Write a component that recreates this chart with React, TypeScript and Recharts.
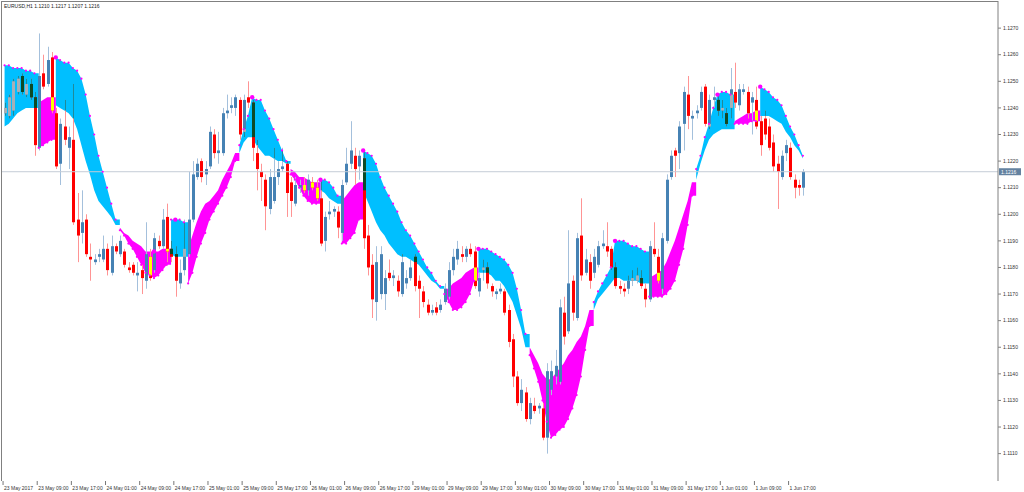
import React from 'react';
import { ComposedChart, Area, Bar, Line, XAxis, YAxis, ReferenceLine } from 'recharts';

// EURUSD H1 candles, 23 May 01:00 .. 1 Jun 21:00
const openPrices = [
  1.1238, 1.1237, 1.1239, 1.1246, 1.1252, 1.1245, 1.1249, 1.1244, 1.1225, 1.1253,
  1.1249, 1.1259, 1.1238, 1.1219, 1.1233, 1.1225, 1.1228, 1.1198, 1.1193, 1.1198,
  1.1184, 1.1182, 1.1184, 1.1183, 1.1187, 1.1178, 1.1188, 1.1185, 1.1186, 1.118,
  1.1181, 1.1177, 1.1179, 1.1175, 1.1184, 1.1179, 1.119, 1.1188, 1.1199, 1.1187,
  1.1185, 1.1174, 1.1179, 1.1185, 1.1198, 1.1214, 1.122, 1.1215, 1.1218, 1.123,
  1.1223, 1.1223, 1.1238, 1.124, 1.124, 1.1243, 1.1231, 1.1244, 1.1242, 1.1223,
  1.1216, 1.1213, 1.1202, 1.1205, 1.1214, 1.1217, 1.1219, 1.1212, 1.1204, 1.121,
  1.1211, 1.1209, 1.1212, 1.121, 1.1206, 1.119, 1.12, 1.1201, 1.1201, 1.1193,
  1.1212, 1.1219, 1.1222, 1.1218, 1.1221, 1.1192, 1.1181, 1.1167, 1.117, 1.117,
  1.1178, 1.1176, 1.1175, 1.117, 1.1174, 1.1176, 1.1184, 1.1175, 1.1171, 1.1166,
  1.1163, 1.1165, 1.1164, 1.1167, 1.1169, 1.1179, 1.1183, 1.1185, 1.1184, 1.1187,
  1.1186, 1.1171, 1.1179, 1.118, 1.1173, 1.117, 1.1171, 1.1171, 1.1164, 1.1153,
  1.1139, 1.1129, 1.1133, 1.1123, 1.1128, 1.1127, 1.1127, 1.1116, 1.1134, 1.1139,
  1.1137, 1.1163, 1.1156, 1.1175, 1.1161, 1.1192, 1.1178, 1.1182, 1.1178, 1.1181,
  1.1188, 1.1188, 1.1187, 1.118, 1.1173, 1.1172, 1.1172, 1.1175, 1.1175, 1.1176,
  1.1172, 1.1168, 1.1187, 1.1184, 1.1172, 1.119, 1.1214, 1.1224, 1.1223, 1.1234,
  1.1245, 1.1236, 1.1238, 1.124, 1.1248, 1.1233, 1.1243, 1.1243, 1.1239, 1.1238,
  1.124, 1.1246, 1.1241, 1.1246, 1.1246, 1.1242, 1.1243, 1.1235, 1.1236, 1.1233,
  1.1227, 1.1219, 1.1214, 1.1223, 1.1225, 1.1213, 1.1211, 1.121,
];
const highPrices = [
  1.1242, 1.1245, 1.1251, 1.1252, 1.1253, 1.1251, 1.1251, 1.1246, 1.1268, 1.126,
  1.1263, 1.1261, 1.124, 1.1236, 1.1243, 1.1233, 1.1249, 1.1208, 1.1209, 1.12,
  1.1189, 1.1185, 1.1187, 1.1192, 1.1189, 1.1192, 1.1189, 1.1192, 1.1187, 1.1182,
  1.1182, 1.1182, 1.1181, 1.1197, 1.1187, 1.1193, 1.1192, 1.1202, 1.1204, 1.119,
  1.1188, 1.1183, 1.1198, 1.1216, 1.122, 1.1221, 1.1221, 1.122, 1.1233, 1.1232,
  1.1231, 1.124, 1.1245, 1.1244, 1.1245, 1.1244, 1.1245, 1.125, 1.1243, 1.1228,
  1.1219, 1.1215, 1.1217, 1.1225, 1.122, 1.1225, 1.122, 1.1214, 1.1214, 1.1213,
  1.1214, 1.1215, 1.1214, 1.1213, 1.1213, 1.1201, 1.1205, 1.1203, 1.1203, 1.1213,
  1.1225, 1.1235, 1.1225, 1.1224, 1.1224, 1.1196, 1.1185, 1.1188, 1.1188, 1.1179,
  1.1183, 1.1179, 1.1177, 1.1185, 1.1179, 1.1183, 1.1185, 1.1177, 1.1173, 1.1168,
  1.1166, 1.1167, 1.1168, 1.1174, 1.1182, 1.1187, 1.119, 1.1188, 1.1188, 1.1189,
  1.1188, 1.1178, 1.1183, 1.1182, 1.1174, 1.1172, 1.1174, 1.1172, 1.1166, 1.1155,
  1.1141, 1.1138, 1.1135, 1.1131, 1.1131, 1.1129, 1.1129, 1.1144, 1.1145, 1.1149,
  1.1168, 1.1169, 1.1194, 1.1177, 1.1193, 1.1206, 1.1187, 1.1185, 1.1187, 1.119,
  1.1194, 1.1197, 1.1188, 1.1182, 1.1175, 1.1174, 1.1177, 1.1179, 1.118, 1.1179,
  1.1174, 1.119, 1.1197, 1.1187, 1.1193, 1.1215, 1.1224, 1.1225, 1.1235, 1.1248,
  1.1252, 1.1239, 1.1241, 1.1248, 1.1249, 1.1245, 1.1248, 1.1245, 1.1243, 1.124,
  1.1255, 1.1257, 1.1249, 1.1249, 1.1248, 1.1246, 1.1248, 1.1237, 1.1239, 1.1236,
  1.123, 1.1222, 1.1224, 1.1228, 1.1227, 1.1215, 1.1213, 1.1217,
];
const lowPrices = [
  1.1237, 1.1236, 1.1237, 1.1245, 1.1245, 1.1244, 1.1243, 1.1222, 1.1224, 1.1247,
  1.1248, 1.1238, 1.1217, 1.1211, 1.1226, 1.1217, 1.1196, 1.1182, 1.1189, 1.1184,
  1.1175, 1.1181, 1.1182, 1.1182, 1.1177, 1.1177, 1.1185, 1.1184, 1.118, 1.1178,
  1.1177, 1.1171, 1.117, 1.1172, 1.1175, 1.1178, 1.1187, 1.1187, 1.1182, 1.1182,
  1.1169, 1.1172, 1.1177, 1.1184, 1.1197, 1.1213, 1.1212, 1.1211, 1.1217, 1.1221,
  1.1219, 1.1222, 1.1236, 1.1238, 1.1237, 1.1228, 1.1229, 1.124, 1.122, 1.1209,
  1.1205, 1.1194, 1.12, 1.1204, 1.1211, 1.1216, 1.1199, 1.1199, 1.1203, 1.1208,
  1.1208, 1.1207, 1.1209, 1.1205, 1.1188, 1.1186, 1.1198, 1.1199, 1.1191, 1.119,
  1.1211, 1.1217, 1.1211, 1.1213, 1.1187, 1.1177, 1.1161, 1.116, 1.1168, 1.1164,
  1.1175, 1.1173, 1.1169, 1.1169, 1.1172, 1.1175, 1.1171, 1.1161, 1.1165, 1.1162,
  1.1162, 1.1162, 1.1163, 1.1166, 1.1168, 1.1177, 1.1181, 1.1182, 1.1182, 1.1184,
  1.1172, 1.1169, 1.1175, 1.1172, 1.1169, 1.1168, 1.117, 1.1162, 1.115, 1.1135,
  1.1128, 1.1126, 1.1122, 1.1121, 1.1125, 1.1125, 1.1115, 1.111, 1.1132, 1.1136,
  1.1136, 1.1151, 1.1155, 1.116, 1.116, 1.1175, 1.1177, 1.1172, 1.1176, 1.118,
  1.1187, 1.1184, 1.1179, 1.1172, 1.117, 1.1169, 1.117, 1.1173, 1.1174, 1.1172,
  1.1165, 1.1167, 1.1184, 1.1174, 1.117, 1.1189, 1.1213, 1.1214, 1.1217, 1.1224,
  1.1232, 1.1228, 1.1236, 1.1239, 1.1233, 1.1232, 1.124, 1.1237, 1.1236, 1.1233,
  1.1236, 1.124, 1.1239, 1.1245, 1.1236, 1.123, 1.1232, 1.1222, 1.1228, 1.1224,
  1.1216, 1.1202, 1.1213, 1.122, 1.1213, 1.1206, 1.1207, 1.1207,
];
const closePrices = [
  1.124, 1.1244, 1.125, 1.1251, 1.1246, 1.1249, 1.1244, 1.1226, 1.1252, 1.1248,
  1.1258, 1.1239, 1.1218, 1.1234, 1.1228, 1.1229, 1.1197, 1.1192, 1.1197, 1.1185,
  1.1183, 1.1183, 1.1185, 1.1187, 1.1179, 1.1188, 1.1186, 1.119, 1.1181, 1.1179,
  1.1178, 1.1178, 1.1176, 1.1185, 1.1176, 1.1191, 1.1188, 1.1198, 1.1186, 1.1184,
  1.1175, 1.1178, 1.1187, 1.1198, 1.1215, 1.1219, 1.1214, 1.1217, 1.1231, 1.1223,
  1.1224, 1.1238, 1.1239, 1.1241, 1.1244, 1.123, 1.1243, 1.1242, 1.1225, 1.1217,
  1.1214, 1.1203, 1.1214, 1.1214, 1.1217, 1.1218, 1.1208, 1.1205, 1.1211, 1.1211,
  1.1209, 1.1213, 1.121, 1.1206, 1.1189, 1.1199, 1.1201, 1.1202, 1.1195, 1.1211,
  1.1219, 1.1224, 1.1217, 1.1222, 1.1191, 1.118, 1.1168, 1.1182, 1.1185, 1.1176,
  1.1176, 1.1177, 1.1171, 1.1182, 1.1176, 1.118, 1.1173, 1.1172, 1.1167, 1.1163,
  1.1164, 1.1163, 1.1166, 1.1172, 1.1179, 1.1184, 1.1187, 1.1184, 1.1187, 1.1185,
  1.1173, 1.1176, 1.118, 1.1174, 1.1171, 1.1171, 1.1172, 1.1163, 1.1152, 1.1139,
  1.1129, 1.1134, 1.1123, 1.1129, 1.1126, 1.1128, 1.1116, 1.1141, 1.1141, 1.1143,
  1.1165, 1.1154, 1.1174, 1.1163, 1.1191, 1.1177, 1.1183, 1.1175, 1.1184, 1.1188,
  1.1189, 1.1186, 1.118, 1.1173, 1.1172, 1.1171, 1.1175, 1.1176, 1.1177, 1.1173,
  1.1168, 1.1188, 1.1185, 1.1175, 1.1191, 1.1213, 1.1222, 1.1222, 1.1233, 1.1246,
  1.1237, 1.1237, 1.1239, 1.1246, 1.1234, 1.1243, 1.1244, 1.1239, 1.124, 1.1234,
  1.1247, 1.1242, 1.1247, 1.1247, 1.1238, 1.1244, 1.1233, 1.1226, 1.123, 1.1225,
  1.1218, 1.1216, 1.1222, 1.1226, 1.1214, 1.121, 1.121, 1.1216,
];

// indicator band: cyan where line A is above line B, magenta otherwise
const bandA = [
  1.1256, 1.1256, 1.1255, 1.1255, 1.1255, 1.1254, 1.1254, 1.1253, 1.1225, 1.1226,
  1.1227, 1.1228, 1.1259, 1.1258, 1.1257, 1.1257, 1.1255, 1.1254, 1.1251, 1.1245,
  1.1237, 1.123, 1.1222, 1.1216, 1.121, 1.1204, 1.1198, 1.1194, 1.1192, 1.1189,
  1.1187, 1.1184, 1.1181, 1.1178, 1.1177, 1.1176, 1.1177, 1.1179, 1.1181, 1.1198,
  1.1198, 1.1198, 1.1197, 1.1174, 1.1178, 1.1184, 1.1189, 1.1193, 1.1198, 1.1201,
  1.1204, 1.1207, 1.121, 1.1214, 1.122, 1.1226, 1.1232, 1.1237, 1.1244, 1.1243,
  1.1243, 1.1239, 1.1236, 1.1232, 1.1228, 1.1224, 1.122, 1.1215, 1.1213, 1.121,
  1.1207, 1.1205, 1.1204, 1.1204, 1.1213, 1.1213, 1.1212, 1.121, 1.1207, 1.1189,
  1.1189, 1.1191, 1.1193, 1.1198, 1.1224, 1.1223, 1.1222, 1.1219, 1.1214, 1.121,
  1.1207, 1.1204, 1.1201, 1.1197, 1.1194, 1.1192, 1.1189, 1.1186, 1.1183, 1.118,
  1.1178, 1.1175, 1.1173, 1.117, 1.1167, 1.1164, 1.1164, 1.1165, 1.1167, 1.117,
  1.1175, 1.1187, 1.1187, 1.1187, 1.1186, 1.1185, 1.1184, 1.1183, 1.1181, 1.1178,
  1.1172, 1.1164, 1.1155, 1.1147, 1.1142, 1.1137, 1.113, 1.1122, 1.1116, 1.1117,
  1.1119, 1.112, 1.1123, 1.1127, 1.1132, 1.1139, 1.1149, 1.1158, 1.1167, 1.1171,
  1.1174, 1.1177, 1.118, 1.119, 1.119, 1.119, 1.1189, 1.1188, 1.1188, 1.1187,
  1.1186, 1.1169, 1.1169, 1.1169, 1.1169, 1.117, 1.1172, 1.1175, 1.1181, 1.1187,
  1.1196, 1.1207, 1.1217, 1.1222, 1.1229, 1.1234, 1.124, 1.1245, 1.1246, 1.1246,
  1.1245, 1.1234, 1.1234, 1.1234, 1.1234, 1.1235, 1.1235, 1.1248, 1.1247, 1.1246,
  1.1244, 1.1243, 1.1241, 1.1237, 1.1233, 1.123, 1.1226, 1.1222,
];
const bandB = [
  1.1233, 1.1234, 1.1236, 1.1238, 1.1239, 1.124, 1.124, 1.124, 1.1242, 1.1243,
  1.1244, 1.1244, 1.1241, 1.124, 1.1239, 1.1238, 1.1236, 1.1232, 1.1226, 1.122,
  1.1215, 1.1209, 1.1205, 1.1203, 1.1201, 1.1199, 1.1196, 1.1195, 1.1193, 1.1192,
  1.119, 1.1189, 1.1188, 1.1186, 1.1186, 1.1186, 1.1186, 1.1187, 1.1187, 1.1185,
  1.1184, 1.1184, 1.1184, 1.1187, 1.1192, 1.1197, 1.1201, 1.1204, 1.1205, 1.1207,
  1.1209, 1.1213, 1.1216, 1.1219, 1.1223, 1.1223, 1.1227, 1.1229, 1.1229, 1.1226,
  1.1224, 1.1222, 1.1222, 1.1221, 1.122, 1.122, 1.1219, 1.1217, 1.1216, 1.1214,
  1.1214, 1.1213, 1.1212, 1.1212, 1.1209, 1.1208, 1.1206, 1.1205, 1.1204, 1.1205,
  1.1207, 1.1209, 1.1211, 1.1212, 1.1209, 1.1205, 1.1201, 1.1197, 1.1194, 1.1192,
  1.1189, 1.1187, 1.1185, 1.1184, 1.1184, 1.1183, 1.1182, 1.1181, 1.1179, 1.1177,
  1.1175, 1.1174, 1.1172, 1.1172, 1.1172, 1.1174, 1.1175, 1.1176, 1.1178, 1.1179,
  1.118, 1.1178, 1.1178, 1.1178, 1.1177, 1.1175, 1.1175, 1.1173, 1.117, 1.1167,
  1.1162, 1.1157, 1.115, 1.115, 1.1147, 1.1144, 1.114, 1.1138, 1.1138, 1.114,
  1.1142, 1.1144, 1.1147, 1.1149, 1.1152, 1.1154, 1.1158, 1.1164, 1.1164, 1.1168,
  1.117, 1.1172, 1.1174, 1.1176, 1.1176, 1.1175, 1.1175, 1.1175, 1.1175, 1.1174,
  1.1174, 1.1176, 1.1177, 1.1178, 1.1179, 1.1182, 1.1186, 1.119, 1.1195, 1.12,
  1.1205, 1.1212, 1.1213, 1.1219, 1.1224, 1.1228, 1.123, 1.1231, 1.1232, 1.1232,
  1.1232, 1.1235, 1.1236, 1.1237, 1.1238, 1.1238, 1.1239, 1.1237, 1.1237, 1.1237,
  1.1236, 1.1235, 1.1234, 1.1231, 1.1229, 1.1226, 1.1224, 1.1221,
];

// big signal dots
const signalBars = [12, 35, 40, 58, 74, 84, 111, 143, 167, 177];
const signalPrices = [1.1259, 1.1186, 1.1198, 1.1244, 1.1213, 1.1224, 1.1187, 1.119, 1.1245, 1.1248];

const priceTicks = [
  1.111, 1.112, 1.113, 1.114, 1.115, 1.116, 1.117, 1.118, 1.119,
  1.12, 1.121, 1.122, 1.123, 1.124, 1.125, 1.126, 1.127,
];
const timeTickBars = [0, 8, 16, 24, 32, 40, 48, 56, 64, 72, 80, 88, 96, 104, 112, 120, 128, 136, 144, 152, 160, 168, 176, 184];
const timeTickLabels = [
  '23 May 2017', '23 May 09:00', '23 May 17:00', '24 May 01:00', '24 May 09:00', '24 May 17:00',
  '25 May 01:00', '25 May 09:00', '25 May 17:00', '26 May 01:00', '26 May 09:00', '26 May 17:00',
  '29 May 01:00', '29 May 09:00', '29 May 17:00', '30 May 01:00', '30 May 09:00', '30 May 17:00',
  '31 May 01:00', '31 May 09:00', '31 May 17:00', '1 Jun 01:00', '1 Jun 09:00', '1 Jun 17:00',
];
const title = 'EURUSD,H1  1.1210 1.1217 1.1207 1.1216';
const lastPrice = 1.1216;

const CYAN = '#00bfff';
const MAGENTA = '#ff00ff';
const BULL = '#4682b4';
const BEAR = '#ff0000';
const FONT = '"Liberation Sans", Arial, sans-serif';
const X_DOMAIN: [number, number] = [-0.6, 232.7];
const Y_DOMAIN: [number, number] = [1.10997, 1.12802];
const AXIS_BOTTOM = 481;

const isUp = (i: number) => bandA[i] >= bandB[i];

// each colour segment is carried one bar further so the fills meet without a gap
const rows = closePrices.map((close, i) => {
  const s = signalBars.indexOf(i);
  const prev = i > 0 ? i - 1 : i;
  let cyan: number[] | null = null;
  let magenta: number[] | null = null;
  if (isUp(i)) cyan = [bandB[i], bandA[i]];
  else if (isUp(prev)) cyan = [bandB[prev], bandA[prev]];
  if (!isUp(i)) magenta = [bandA[i], bandB[i]];
  else if (!isUp(prev)) magenta = [bandA[prev], bandB[prev]];
  return {
    idx: i,
    open: openPrices[i],
    high: highPrices[i],
    low: lowPrices[i],
    close,
    bandA: bandA[i],
    bandLo: Math.min(bandA[i], bandB[i]),
    bandHi: Math.max(bandA[i], bandB[i]),
    bandUp: isUp(i),
    cyan,
    magenta,
    signal: s >= 0 ? signalPrices[s] : null,
  };
});

// part of a vertical span [a, b] that lies inside [lo, hi]
function overlap(a: number, b: number, lo: number, hi: number) {
  const s = Math.max(a, lo);
  const e = Math.min(b, hi);
  return e > s ? [s, e] : null;
}

function Candle(props: any) {
  const { x, y, width, height, payload } = props;
  if (x == null || y == null) return null;
  const top = Math.min(y, y + height);
  const h = Math.abs(height);
  const k = payload.high > payload.low ? h / (payload.high - payload.low) : 0;
  const py = (p: number) => top + (payload.high - p) * k;
  const yO = py(payload.open);
  const yC = py(payload.close);
  const up = payload.close >= payload.open;
  const cx = Math.round(x + width / 2);
  const bodyTop = Math.min(yO, yC);
  const bodyBot = Math.max(bodyTop + 1, Math.max(yO, yC));
  const bandTop = py(payload.bandHi);
  const bandBot = py(payload.bandLo);
  const wickIn = payload.bandUp ? overlap(top, top + h, bandTop, bandBot) : null;
  const bodyIn = overlap(bodyTop, bodyBot, bandTop, bandBot);
  let tint: string | null = null;
  if (payload.bandUp) tint = up ? '#a6b0b8' : '#0d4a26';
  else if (!up) tint = '#ffff00';
  return (
    <g>
      <line x1={cx + 0.5} x2={cx + 0.5} y1={top} y2={top + h} stroke={up ? '#a4c0dc' : '#ff9494'} strokeWidth={1} />
      {wickIn && (
        <line x1={cx + 0.5} x2={cx + 0.5} y1={wickIn[0]} y2={wickIn[1]} stroke="#1f8a9a" strokeWidth={1} />
      )}
      <rect x={cx - 1} y={bodyTop} width={3} height={bodyBot - bodyTop} fill={up ? BULL : BEAR} />
      {bodyIn && tint && (
        <rect x={cx - 1} y={bodyIn[0]} width={3} height={bodyIn[1] - bodyIn[0]} fill={tint} />
      )}
    </g>
  );
}

function TimeTick(props: any) {
  const { x, payload } = props;
  const label = timeTickLabels[timeTickBars.indexOf(payload.value)];
  return (
    <g>
      <line x1={x - 1.5} x2={x - 1.5} y1={AXIS_BOTTOM} y2={AXIS_BOTTOM + 4} stroke="#777" strokeWidth={1} />
      <text x={x - 0.5} y={AXIS_BOTTOM + 8.5} fontSize={5} fontFamily={FONT} fill="#333" textAnchor="start">
        {label}
      </text>
    </g>
  );
}

function PriceTag(props: any) {
  const { viewBox } = props;
  if (!viewBox) return null;
  const left = viewBox.x + viewBox.width + 1;
  return (
    <g>
      <rect x={left} y={viewBox.y - 3.5} width={22} height={7} fill="#6482a0" />
      <text x={left + 2} y={viewBox.y + 2} fontSize={5} fontFamily={FONT} fill="#ffffff">
        {lastPrice.toFixed(4)}
      </text>
    </g>
  );
}

export default function App() {
  return (
    <div style={{ position: 'absolute', left: 0, top: 0, width: 1024, height: 492, background: '#fff' }}>
      <ComposedChart width={1024} height={492} data={rows} margin={{ top: 1, right: 0, bottom: 0, left: 2 }}>
        <XAxis xAxisId="band" type="number" dataKey="idx" domain={X_DOMAIN} allowDataOverflow hide />
        <XAxis
          xAxisId="price"
          type="number"
          dataKey="idx"
          domain={X_DOMAIN}
          allowDataOverflow
          ticks={timeTickBars}
          interval={0}
          height={11}
          tickSize={0}
          tickMargin={0}
          tick={<TimeTick />}
          tickLine={false}
          axisLine={{ stroke: '#808080' }}
        />
        <YAxis
          orientation="right"
          domain={Y_DOMAIN}
          allowDataOverflow
          ticks={priceTicks}
          interval={0}
          width={26}
          tickSize={3}
          tickMargin={2}
          tickFormatter={(v: number) => v.toFixed(4)}
          tick={{ fontSize: 5, fill: '#333', fontFamily: FONT }}
          tickLine={{ stroke: '#808080' }}
          axisLine={{ stroke: '#808080' }}
        />
        <ReferenceLine
          xAxisId="price"
          y={lastPrice}
          stroke="#c4ccd6"
          strokeWidth={1}
          label={<PriceTag />}
        />
        <Area
          xAxisId="band"
          type="linear"
          dataKey="cyan"
          stroke="none"
          fill={CYAN}
          fillOpacity={1}
          connectNulls={false}
          dot={false}
          activeDot={false}
          isAnimationActive={false}
        />
        <Area
          xAxisId="band"
          type="linear"
          dataKey="magenta"
          stroke="none"
          fill={MAGENTA}
          fillOpacity={1}
          connectNulls={false}
          dot={false}
          activeDot={false}
          isAnimationActive={false}
        />
        <Line
          xAxisId="band"
          dataKey="bandA"
          stroke="none"
          dot={{ r: 1.1, fill: MAGENTA, stroke: 'none' }}
          activeDot={false}
          isAnimationActive={false}
        />
        <Bar
          xAxisId="price"
          dataKey={(d: any) => [d.low, d.high]}
          barSize={3}
          shape={<Candle />}
          isAnimationActive={false}
        />
        <Line
          xAxisId="band"
          dataKey="signal"
          stroke="none"
          connectNulls={false}
          dot={{ r: 2.2, fill: MAGENTA, stroke: 'none' }}
          activeDot={false}
          isAnimationActive={false}
        />
      </ComposedChart>
      <svg width={1024} height={492} style={{ position: 'absolute', left: 0, top: 0, pointerEvents: 'none' }}>
        <line x1={1.5} x2={1.5} y1={1} y2={481} stroke="#808080" strokeWidth={1} />
        <line x1={1} x2={998} y1={1.5} y2={1.5} stroke="#808080" strokeWidth={1} />
        <text x={4} y={8} fontSize={5} fontFamily={FONT} fill="#222">
          {title}
        </text>
      </svg>
    </div>
  );
}
